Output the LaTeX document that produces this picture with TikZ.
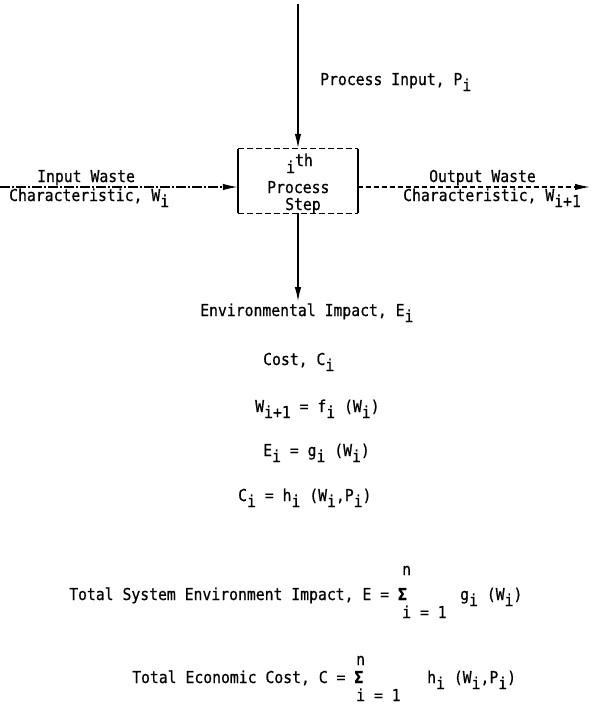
\documentclass[tikz,border=0pt]{standalone}
\usepackage{fontspec}
\setmainfont{DejaVu Sans Mono}[FakeStretch=0.9, FakeBold=0.6]
\usetikzlibrary{arrows.meta}
\newcommand\lo[1]{\raisebox{-6pt}{#1}}
\begin{document}
\begin{tikzpicture}[x=1pt,y=-1pt,
  every node/.style={inner sep=0pt, font=\fontsize{16.4}{19}\selectfont},
  lbl/.style={anchor=base west},
  solidflow/.style={line width=1.8pt, -{Latex[length=15pt,width=6.5pt]}},
  dashflow/.style={line width=1.3pt, -{Latex[length=15pt,width=6.5pt]}},
  boxside/.style={line width=1.6pt},
  boxdash/.style={line width=1.2pt, dash pattern=on 6pt off 3pt}]
\fill[white] (0,0) rectangle (590,713);
\useasboundingbox (0,0) rectangle (590,713);
% geometry
\coordinate (topin) at (298,4);
\node (box) [minimum width=120pt, minimum height=64pt] at (298,181) {};
\coordinate (leftin) at (0,187);
\coordinate (rightout) at (590,187);
\coordinate (envout) at (298,302);
% box outline
\draw[boxside] (box.north west) -- (box.south west);
\draw[boxside] (box.north east) -- (box.south east);
\draw[boxdash] (box.north west) -- (box.north east);
\draw[boxdash] (box.south west) -- (box.south east);
% connectors
\draw[solidflow] (topin) -- (box.north);
\draw[solidflow] (box.south) -- (envout);
\draw[dashflow, dash pattern=on 10pt off 2pt on 2pt off 2pt] (leftin) -- (leftin -| box.west);
\draw[dashflow, dash pattern=on 5pt off 3pt] (box.east |- rightout) -- (rightout);
% box text
\node[lbl] (bi) at (286,173) {i\raisebox{7pt}{th}};
\node[lbl] (bp) at (267,193) {Process};
\node[lbl] (bs) at (285,210) {Step};
% flow labels
\node[lbl] (pin) at (320,85) {Process Input, P\lo{i}};
\node[lbl] (iw1) at (37,182) {Input Waste};
\node[lbl] (iw2) at (9,201) {Characteristic, W\lo{i}};
\node[lbl] (ow1) at (429,182) {Output Waste};
\node[lbl] (ow2) at (403,201) {Characteristic, W\lo{i+1}};
\node[lbl] (env) at (200,316) {Environmental Impact, E\lo{i}};
% formulas
\node[lbl] (cost) at (263,365) {Cost, C\lo{i}};
\node[lbl] (fw) at (255,412) {W\lo{i+1} = f\lo{i} (W\lo{i})};
\node[lbl] (fe) at (263,456) {E\lo{i} = g\lo{i} (W\lo{i})};
\node[lbl] (fc) at (238,501) {C\lo{i} = h\lo{i} (W\lo{i},P\lo{i})};
% totals
\node[lbl] (t1) at (69,600) {Total System Environment Impact, E = \textbf{Σ}};
\node[lbl] (n1) at (402,575) {n};
\node[lbl] (i1) at (402,618) {i = 1};
\node[lbl] (g1) at (460,600) {g\lo{i} (W\lo{i})};
\node[lbl] (t2) at (132,683) {Total Economic Cost, C = \textbf{Σ}};
\node[lbl] (n2) at (356,665) {n};
\node[lbl] (i2) at (356,701) {i = 1};
\node[lbl] (h2) at (427,683) {h\lo{i} (W\lo{i},P\lo{i})};
\end{tikzpicture}
\end{document}
